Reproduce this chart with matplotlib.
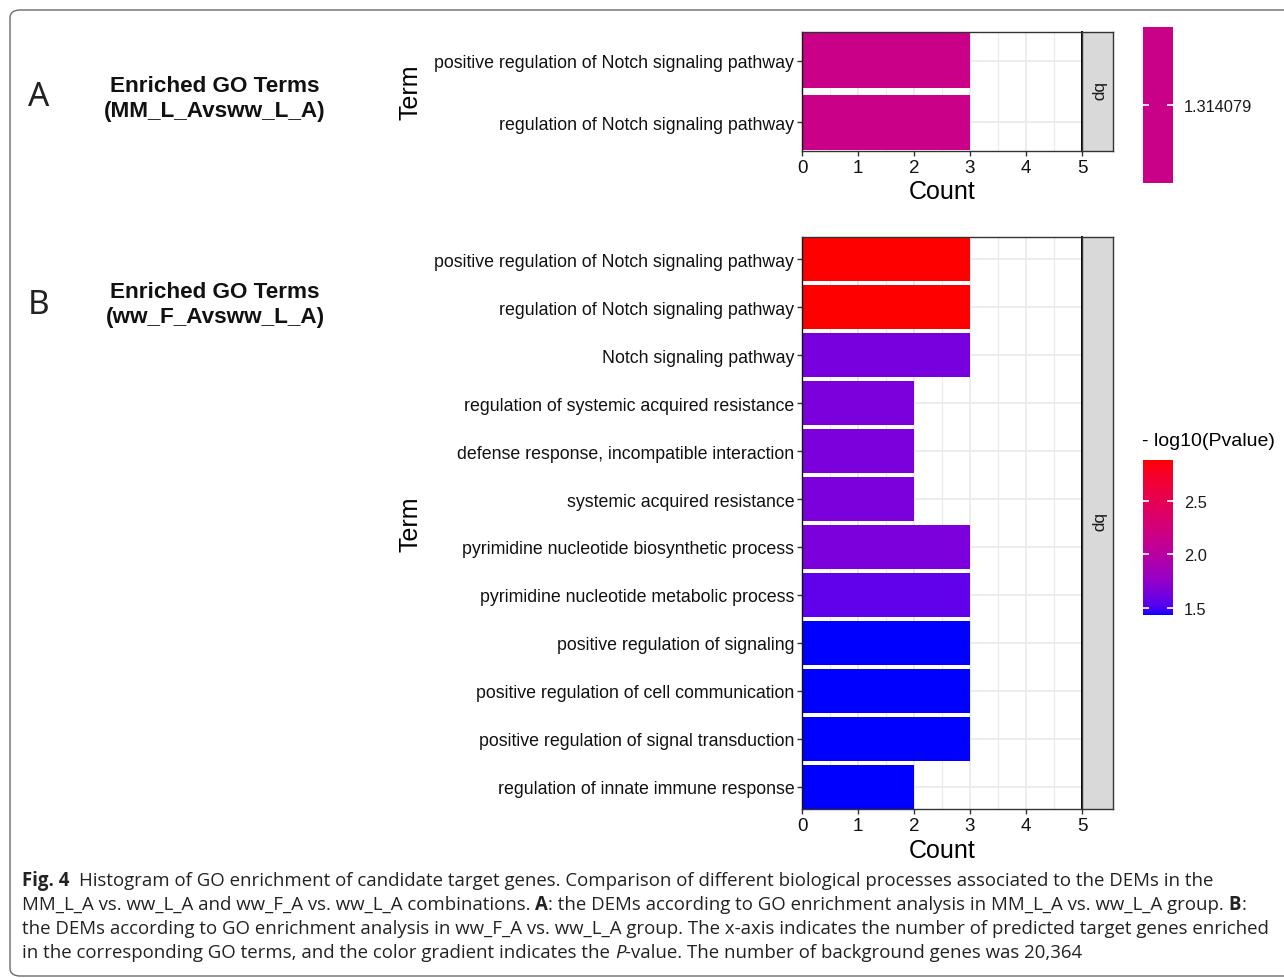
import numpy as np
import matplotlib
matplotlib.use("Agg")
import matplotlib.pyplot as plt
from matplotlib import font_manager
from matplotlib.colors import ListedColormap, Normalize
from matplotlib.patches import FancyBboxPatch

# ---------------- data ----------------
terms_A = ["positive regulation of Notch signaling pathway",
           "regulation of Notch signaling pathway"]
count_A = [3, 3]
logp_A = [1.314079, 1.314079]

terms_B = ["positive regulation of Notch signaling pathway",
           "regulation of Notch signaling pathway",
           "Notch signaling pathway",
           "regulation of systemic acquired resistance",
           "defense response, incompatible interaction",
           "systemic acquired resistance",
           "pyrimidine nucleotide biosynthetic process",
           "pyrimidine nucleotide metabolic process",
           "positive regulation of signaling",
           "positive regulation of cell communication",
           "positive regulation of signal transduction",
           "regulation of innate immune response"]
count_B = [3, 3, 3, 2, 2, 2, 3, 3, 3, 3, 3, 2]
logp_B = [2.88, 2.88, 1.63, 1.64, 1.64, 1.64, 1.64, 1.56, 1.43, 1.43, 1.43, 1.43]

x_ticks = [0, 1, 2, 3, 4, 5]
cbar_ticks_B = [1.5, 2.0, 2.5]
facet_label = "bp"

W, H = 1284, 979
FONT = "Liberation Sans"

# ---------------- Lab gradient (blue -> red) ----------------
M = np.array([[0.4124564, 0.3575761, 0.1804375],
              [0.2126729, 0.7151522, 0.0721750],
              [0.0193339, 0.1191920, 0.9503041]])
WP = np.array([0.95047, 1.0, 1.08883])


def srgb2lab(c):
    c = np.asarray(c, float)
    lin = np.where(c <= 0.04045, c / 12.92, ((c + 0.055) / 1.055) ** 2.4)
    t = (M @ lin) / WP
    d = 6 / 29
    f = np.where(t > d ** 3, np.cbrt(t), t / (3 * d * d) + 4 / 29)
    return np.array([116 * f[1] - 16, 500 * (f[0] - f[1]), 200 * (f[1] - f[2])])


def lab2srgb(lab):
    L, a, b = lab
    fy_ = (L + 16) / 116
    fx_ = fy_ + a / 500
    fz_ = fy_ - b / 200
    d = 6 / 29
    f = np.array([fx_, fy_, fz_])
    t = np.where(f > d, f ** 3, 3 * d * d * (f - 4 / 29))
    xyz = t * WP
    lin = np.linalg.inv(M) @ xyz
    lin = np.clip(lin, 0, 1)
    c = np.where(lin <= 0.0031308, 12.92 * lin, 1.055 * lin ** (1 / 2.4) - 0.055)
    return np.clip(c, 0, 1)


lab_lo = srgb2lab([0, 0, 1])
lab_hi = srgb2lab([1, 0, 0])
grad = np.array([lab2srgb(lab_lo + (lab_hi - lab_lo) * t) for t in np.linspace(0, 1, 256)])
cmap = ListedColormap(grad)

# ---------------- figure ----------------
fig = plt.figure(figsize=(W / 100, H / 100), dpi=100)


def fx(px):
    return px / W


def fy(py):
    return 1 - py / H


def rect(l, t, r, b):
    return [fx(l), fy(b), (r - l) / W, (b - t) / H]


def draw_panel(ax, sax, terms, counts, colors, ylab_y):
    n = len(terms)
    y = np.arange(n)
    for g in np.arange(0.5, 5, 0.5):
        ax.axvline(g, color="#EBEBEB", lw=0.9 if g % 1 else 1.3, zorder=0)
    for yy in y:
        ax.axhline(yy, color="#EBEBEB", lw=1.3, zorder=0)
    ax.barh(y, counts, height=0.9, color=colors, zorder=2)
    ax.set_xlim(0, 5)
    ax.set_ylim(n - 1 + 0.46, -0.46)
    ax.set_yticks(y)
    ax.set_yticklabels(terms, fontsize=12.8, family=FONT, color="#111111")
    ax.set_xticks(x_ticks)
    ax.set_xticklabels([str(v) for v in x_ticks], fontsize=13.5, family=FONT, color="#111111")
    ax.tick_params(axis="both", length=3.5, width=1.0, color="#333333", pad=2)
    for s in ax.spines.values():
        s.set_color("#333333")
        s.set_linewidth(1.0)
    ax.spines["left"].set_color("#111111")
    ax.spines["right"].set_color("#000000")
    ax.spines["right"].set_linewidth(1.4)
    ax.set_xlabel("Count", fontsize=18, family=FONT, color="#000000")
    ax.set_ylabel("Term", fontsize=18, family=FONT, color="#000000")
    ax.yaxis.set_label_coords((410 - 802) / 280, 0.5)
    ax.yaxis.label.set_va("center")
    ax.xaxis.label.set_va("center")
    ax.xaxis.set_label_coords(0.5, ylab_y)
    # strip
    sax.set_facecolor("#D9D9D9")
    sax.set_xticks([])
    sax.set_yticks([])
    for s in sax.spines.values():
        s.set_color("#333333")
        s.set_linewidth(1.0)
    sax.text(0.5, 0.5, facet_label, rotation=-90, ha="center", va="center",
             fontsize=12.5, family=FONT, color="#1A1A1A", transform=sax.transAxes)


# Panel A
axA = fig.add_axes(rect(802, 33, 1082, 152))
sA = fig.add_axes(rect(1082, 33, 1113, 152))
colA = [cmap(0.5) for _ in logp_A]
draw_panel(axA, sA, terms_A, count_A, colA, -(192 - 152) / 119)

# Panel B
axB = fig.add_axes(rect(802, 238, 1082, 810))
sB = fig.add_axes(rect(1082, 238, 1113, 810))
normB = Normalize(vmin=min(logp_B), vmax=max(logp_B))
colB = [cmap(normB(v)) for v in logp_B]
draw_panel(axB, sB, terms_B, count_B, colB, -(851 - 810) / 572)

# Colourbar A (single value)
cA = fig.add_axes(rect(1143, 28, 1173, 184))
cA.imshow(np.full((2, 2), 0.5), cmap=cmap, vmin=0, vmax=1, aspect="auto",
          extent=[0, 1, 0, 1], origin="lower")
cA.set_xlim(0, 1)
cA.set_ylim(0, 1)
cA.hlines([0.5], 0, 0.2, color="white", lw=1.2)
cA.hlines([0.5], 0.8, 1, color="white", lw=1.2)
cA.set_xticks([])
cA.yaxis.tick_right()
cA.set_yticks([0.5])
cA.set_yticklabels(["%.6f" % logp_A[0]], fontsize=11.8, family=FONT, color="#1A1A1A")
cA.tick_params(axis="y", length=0, pad=8)
for s in cA.spines.values():
    s.set_visible(False)

# Colourbar B
cB = fig.add_axes(rect(1143, 461, 1173, 616))
vals = np.linspace(normB.vmin, normB.vmax, 256).reshape(-1, 1)
cB.imshow(vals, cmap=cmap, norm=normB, aspect="auto",
          extent=[0, 1, normB.vmin, normB.vmax], origin="lower")
cB.set_xlim(0, 1)
cB.set_ylim(normB.vmin, normB.vmax)
cB.hlines(cbar_ticks_B, 0, 0.2, color="white", lw=1.2)
cB.hlines(cbar_ticks_B, 0.8, 1, color="white", lw=1.2)
cB.set_xticks([])
cB.yaxis.tick_right()
cB.set_yticks(cbar_ticks_B)
cB.set_yticklabels(["%.1f" % v for v in cbar_ticks_B], fontsize=11.8, family=FONT, color="#1A1A1A")
cB.tick_params(axis="y", length=0, pad=8)
for s in cB.spines.values():
    s.set_visible(False)
fig.text(fx(1142), fy(441), "- log10(Pvalue)", fontsize=14, family=FONT,
         ha="left", va="center", color="#000000")

# Panel titles & letters
for (t1, t2, ya, yb, L, ly) in [("Enriched GO Terms", "(MM_L_Avsww_L_A)", 87, 112, "A", 97),
                                 ("Enriched GO Terms", "(ww_F_Avsww_L_A)", 292, 318, "B", 305)]:
    fig.text(fx(215), fy(ya), t1, fontsize=16.2, family=FONT, fontweight="bold",
             ha="center", va="center", color="#111111")
    fig.text(fx(215), fy(yb), t2, fontsize=16.2, family=FONT, fontweight="bold",
             ha="center", va="center", color="#111111")
    fig.text(fx(39), fy(ly), L, fontsize=24, family="Noto Sans", fontweight="light",
             ha="center", va="center", color="#222222")

# Border box
box = FancyBboxPatch((fx(10), fy(977)), (1310 - 10) / W, (977 - 11) / H,
                     boxstyle="round,pad=0,rounding_size=0.008",
                     transform=fig.transFigure, fill=False, edgecolor="#6A6A6A",
                     lw=1.0, clip_on=False)
fig.patches.append(box)

# ---------------- caption ----------------
fam_weights = {}
for f in font_manager.fontManager.ttflist:
    fam_weights.setdefault(f.name, set()).add((f.weight if isinstance(f.weight, int) else 400, f.style))


def has_bold_italic(name):
    s = fam_weights.get(name, set())
    return any(w >= 600 for w, _ in s) and any(st == "italic" for _, st in s)


CAP = next((n for n in ["Liberation Sans Narrow", "Open Sans", "Lato", "Noto Sans",
                         "Liberation Sans"] if has_bold_italic(n)), "DejaVu Sans")
renderer = fig.canvas.get_renderer()


def kw_for(style, size):
    kw = dict(fontsize=size, family=CAP, ha="left", va="baseline", color="#222222")
    if style == "b":
        kw["fontweight"] = "bold"
    if style == "i":
        kw["fontstyle"] = "italic"
    return kw


def text_w(s, kw):
    t = fig.text(0, 0, s, **kw)
    w = t.get_window_extent(renderer).width
    t.remove()
    return w


def draw_runs(x0, yb, runs, size):
    x = x0
    for text, style in runs:
        kw = kw_for(style, size)
        sw = text_w("a a", kw) - text_w("aa", kw)
        lead = len(text) - len(text.lstrip(" "))
        trail = len(text) - len(text.rstrip(" "))
        x += lead * sw
        t = fig.text(x / W, fy(yb), text.strip(" "), **kw)
        x = t.get_window_extent(renderer).x1 + trail * sw


line3 = "the DEMs according to GO enrichment analysis in ww_F_A vs. ww_L_A group. The x-axis indicates the number of predicted target genes enriched"
w10 = text_w(line3, kw_for("n", 10))
cap_size = 10 * (1266 - 22) / w10

cap_lines = [
    [("Fig. 4", "b"), ("  Histogram of GO enrichment of candidate target genes. Comparison of different biological processes associated to the DEMs in the", "n")],
    [("MM_L_A vs. ww_L_A and ww_F_A vs. ww_L_A combinations. ", "n"), ("A", "b"),
     (": the DEMs according to GO enrichment analysis in MM_L_A vs. ww_L_A group. ", "n"), ("B", "b"), (":", "n")],
    [(line3, "n")],
    [("in the corresponding GO terms, and the color gradient indicates the ", "n"), ("P", "i"),
     ("-value. The number of background genes was 20,364", "n")],
]
for i, runs in enumerate(cap_lines):
    draw_runs(22, 886 + 24 * i, runs, cap_size)

fig.savefig("out.png", dpi=100)
